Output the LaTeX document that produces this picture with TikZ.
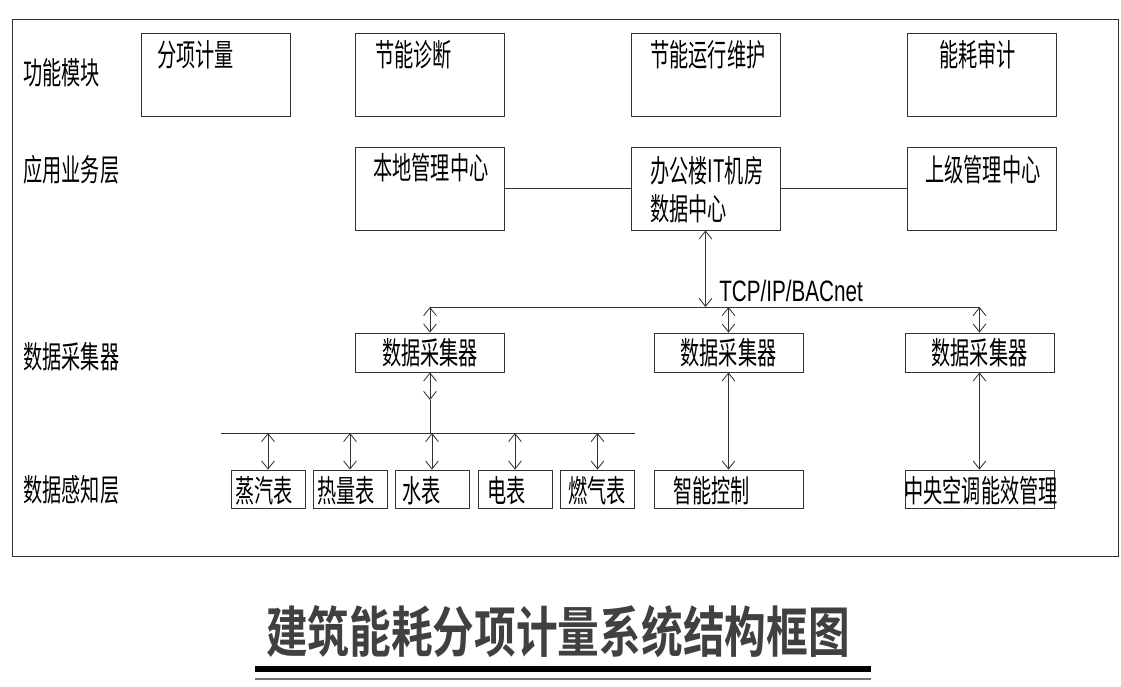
\documentclass[tikz,border=0pt]{standalone}
\usepackage{fontspec}
\usetikzlibrary{arrows.meta}
\newfontfamily\cjk[FakeStretch=0.62]{Noto Sans CJK SC}
\newfontfamily\titlecjk[FakeStretch=0.76]{Noto Sans CJK SC Bold}
\newfontfamily\latfont[FakeStretch=0.7]{Liberation Sans}
\tikzset{
  line/.style={draw=black!80, line width=0.6pt},
  dbl/.style={line, {Straight Barb[length=2mm,width=3.2mm]}-{Straight Barb[length=2mm,width=3.2mm]}},
  txt/.style={font=\cjk\fontsize{22}{26}\selectfont, inner sep=0pt},
  bigbox/.style={line, minimum width=3.725cm, minimum height=2.075cm, inner sep=0pt},
  smallbox/.style={line, txt, minimum width=3.725cm, minimum height=0.975cm},
  meter/.style={line, minimum width=1.85cm, minimum height=0.95cm, inner sep=0pt},
}
\begin{document}
\begin{tikzpicture}[x=0.025cm, y=-0.025cm]
  \useasboundingbox (0,0) rectangle (1121,686);
  \draw[line] (12.5,19) rectangle (1118,556);
  % layer names
  \foreach \y/\n/\t in {73/l1/功能模块, 170/l2/应用业务层, 357/l3/数据采集器, 490/l4/数据感知层}
    \node[txt, anchor=west] (\n) at (23,\y) {\t};
  % function modules
  \foreach \x/\tx/\n/\t in {215.5/157/f1/分项计量, 429.5/375/f2/节能诊断, 705.5/650/f3/节能运行维护, 981.5/939/f4/能耗审计} {
    \node[bigbox] (\n) at (\x,74.5) {};
    \node[txt, anchor=west] (\n t) at (\tx,55) {\t};
  }
  % application layer
  \node[bigbox] (loc) at (430,188.5) {};
  \node[txt, anchor=west] (loct) at (373,168) {本地管理中心};
  \node[bigbox] (dc) at (705.5,188.5) {};
  \node[txt, anchor=west, align=left] (dct) at (650,190) {办公楼IT机房\\[1pt]数据中心};
  \node[bigbox] (sup) at (981.5,188.5) {};
  \node[txt, anchor=west] (supt) at (925,170) {上级管理中心};
  \draw[line] (loc.east) -- (dc.west);
  \draw[line] (dc.east) -- (sup.west);
  % collectors
  \node[smallbox] (c1) at (430,352.5) {数据采集器};
  \node[smallbox] (c2) at (728.5,352.5) {数据采集器};
  \node[smallbox] (c3) at (979.5,352.5) {数据采集器};
  \coordinate (bus) at (430,307);
  \draw[line] (c1.north |- bus) -- (c3.north |- bus);
  \draw[dbl] (dc.south) -- (dc.south |- bus);
  \foreach \n in {c1,c2,c3}
    \draw[dbl] (\n.north |- bus) -- (\n.north);
  \node[font=\latfont\fontsize{21}{24}\selectfont, inner sep=0pt, anchor=base west] (tcp) at (719,301) {TCP/IP/BACnet};
  % sensing layer
  \coordinate (mid) at (430,400);
  \coordinate (lbl) at (221,433);
  \coordinate (lbr) at (635,433);
  \draw[dbl] (c1.south) -- (mid);
  \draw[line] (mid) -- (mid |- lbl);
  \draw[line] (lbl) -- (lbr);
  \foreach \x/\tx/\n/\t in {268/235/m1/蒸汽表, 350/317/m2/热量表, 432/402/m3/水表, 515/487/m4/电表, 597.5/568/m5/燃气表} {
    \node[meter] (\n) at (\x,489) {};
    \node[txt, anchor=west] (\n t) at (\tx,491) {\t};
    \draw[dbl] (\n.north |- lbl) -- (\n.north);
  }
  \node[bigbox, minimum height=0.95cm] (ctl) at (728.5,489) {};
  \node[txt, anchor=west] (ctlt) at (673,491) {智能控制};
  \node[bigbox, minimum height=0.95cm] (hvac) at (979.5,489) {};
  \node[txt] (hvact) at (981,491) {中央空调能效管理};
  \draw[dbl] (c2.south) -- (ctl.north);
  \draw[dbl] (c3.south) -- (hvac.north);
  % title
  \node[font=\titlecjk\fontsize{39}{42}\selectfont, text=black!75, inner sep=0pt] (title) at (558,632) {建筑能耗分项计量系统结构框图};
  \draw[line width=4.3pt] (255,669) -- (871,669);
  \draw[black!55, line width=1.5pt] (255,679) -- (871,679);
\end{tikzpicture}
\end{document}
